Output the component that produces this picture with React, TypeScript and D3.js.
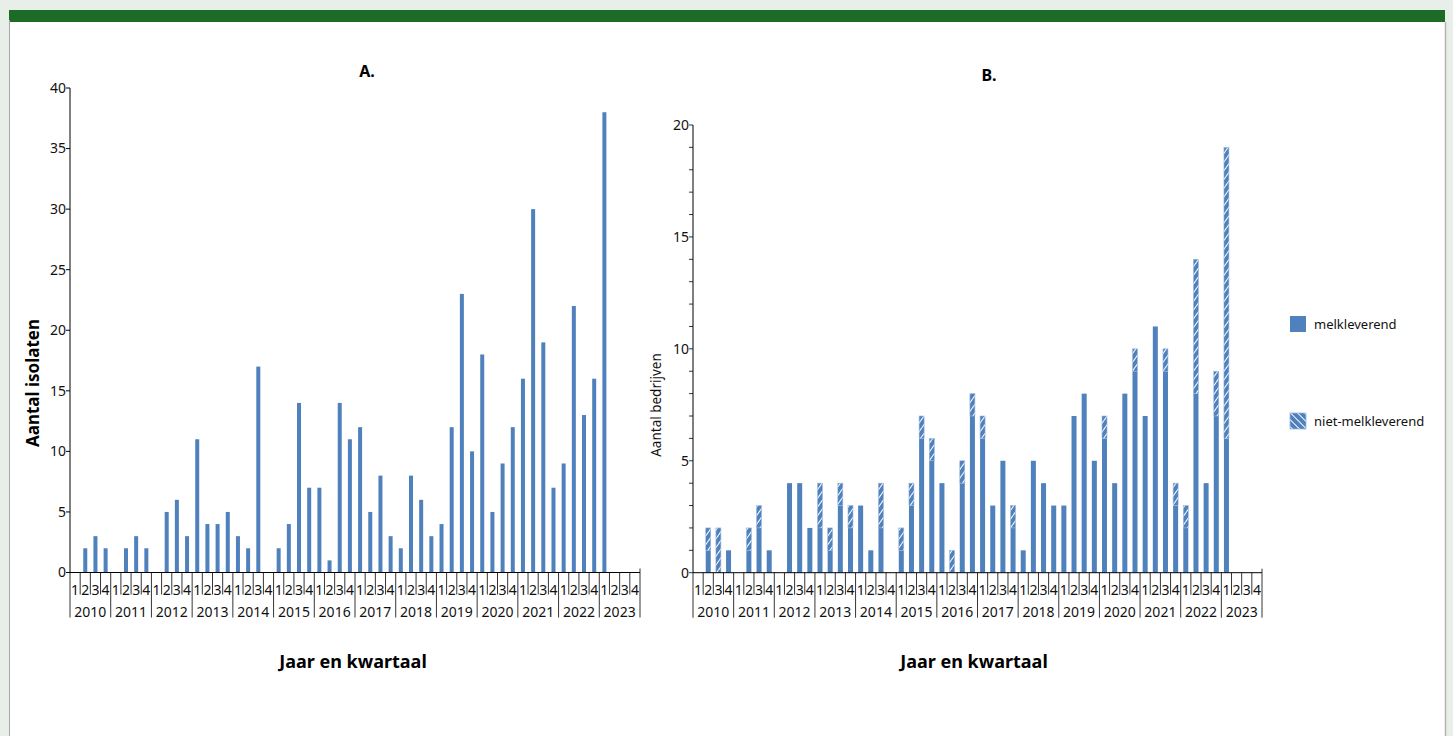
import React from "react";
import * as d3 from "d3";

const years = [2010, 2011, 2012, 2013, 2014, 2015, 2016, 2017, 2018, 2019, 2020, 2021, 2022, 2023];
const quarters = ["1", "2", "3", "4"];

// A. Aantal isolaten per kwartaal (2010 Q1 .. 2023 Q4)
const isolaten = [
  0, 2, 3, 2,
  0, 2, 3, 2,
  0, 5, 6, 3,
  11, 4, 4, 5,
  3, 2, 17, 0,
  2, 4, 14, 7,
  7, 1, 14, 11,
  12, 5, 8, 3,
  2, 8, 6, 3,
  4, 12, 23, 10,
  18, 5, 9, 12,
  16, 30, 19, 7,
  9, 22, 13, 16,
  38, 0, 0, 0,
];

// B. Aantal bedrijven: melkleverend / niet-melkleverend
const melkleverend = [
  0, 1, 0, 1,
  0, 1, 2, 1,
  0, 4, 4, 2,
  2, 1, 3, 2,
  3, 1, 2, 0,
  1, 3, 6, 5,
  4, 0, 4, 7,
  6, 3, 5, 2,
  1, 5, 4, 3,
  3, 7, 8, 5,
  6, 4, 8, 9,
  7, 11, 9, 3,
  2, 8, 4, 7,
  6, 0, 0, 0,
];
const nietMelkleverend = [
  0, 1, 2, 0,
  0, 1, 1, 0,
  0, 0, 0, 0,
  2, 1, 1, 1,
  0, 0, 2, 0,
  1, 1, 1, 1,
  0, 1, 1, 1,
  1, 0, 0, 1,
  0, 0, 0, 0,
  0, 0, 0, 0,
  1, 0, 0, 1,
  0, 0, 1, 1,
  1, 6, 0, 2,
  13, 0, 0, 0,
];

const yTicksA = [0, 5, 10, 15, 20, 25, 30, 35, 40];
const yTicksB = [0, 5, 10, 15, 20];

const keys = years.flatMap((y) => quarters.map((q) => `${y}-${q}`));
const blue = "#4f81bd";
const font = "'Noto Sans', sans-serif";

function CategoryAxis({ x, y0 }) {
  const bw = x.bandwidth();
  return (
    <g fontFamily={font} fontSize={14} fill="#111">
      <line x1={x.range()[0]} x2={x.range()[1]} y1={y0} y2={y0} stroke="#000" />
      {keys.map((k) => {
        const q = k.split("-")[1];
        const left = x(k);
        return (
          <g key={k}>
            <line
              x1={left}
              x2={left}
              y1={y0}
              y2={y0 + (q === "1" ? 45 : 22)}
              stroke="#000"
              strokeWidth={0.8}
            />
            <text x={left + bw / 2} y={y0 + 22} textAnchor="middle">
              {q}
            </text>
          </g>
        );
      })}
      <line
        x1={x.range()[1]}
        x2={x.range()[1]}
        y1={y0 - 4}
        y2={y0 + 45}
        stroke="#000"
        strokeWidth={0.8}
      />
      {years.map((yr) => (
        <text
          key={yr}
          x={x(`${yr}-1`) + (bw * 4) / 2}
          y={y0 + 44}
          textAnchor="middle"
        >
          {yr}
        </text>
      ))}
    </g>
  );
}

function ChartA() {
  const x = d3.scaleBand().domain(keys).range([70, 640]);
  const y = d3.scaleLinear().domain([0, 40]).range([572.5, 88]);
  const bw = 4;
  return (
    <g>
      <text x={367} y={77} textAnchor="middle" fontFamily={font} fontWeight="bold" fontSize={16}>
        A.
      </text>
      {isolaten.map((v, i) =>
        v > 0 ? (
          <rect
            key={i}
            x={x(keys[i]) + x.bandwidth() / 2 - bw / 2}
            y={y(v)}
            width={bw}
            height={y(0) - y(v)}
            fill={blue}
          />
        ) : null
      )}
      <line x1={70} x2={70} y1={y(40)} y2={y(0)} stroke="#000" />
      {yTicksA.map((t) => (
        <g key={t} transform={`translate(70,${y(t)})`}>
          <line x1={-4} x2={0} stroke="#000" />
          <text x={-4} dy="0.35em" textAnchor="end" fontFamily={font} fontSize={14} fill="#111">
            {t}
          </text>
        </g>
      ))}
      <CategoryAxis x={x} y0={y(0)} />
      <text
        transform={`translate(39,383) rotate(-90)`}
        textAnchor="middle"
        fontFamily={font}
        fontWeight="bold"
        fontSize={17}
      >
        Aantal isolaten
      </text>
      <text x={353} y={668} textAnchor="middle" fontFamily={font} fontWeight="bold" fontSize={18}>
        Jaar en kwartaal
      </text>
    </g>
  );
}

function ChartB() {
  const x = d3.scaleBand().domain(keys).range([693, 1262]);
  const y = d3.scaleLinear().domain([0, 20]).range([572.7, 125]);
  const bw = 5;
  const table = keys.map((k, i) => ({ key: k, melk: melkleverend[i], niet: nietMelkleverend[i] }));
  const series = d3.stack().keys(["melk", "niet"])(table);
  return (
    <g>
      <text x={989} y={81} textAnchor="middle" fontFamily={font} fontWeight="bold" fontSize={16}>
        B.
      </text>
      {series.map((s) =>
        s.map((d, i) =>
          d[1] - d[0] > 0 ? (
            <rect
              key={s.key + i}
              x={x(keys[i]) + x.bandwidth() / 2 - bw / 2}
              y={y(d[1])}
              width={bw}
              height={y(d[0]) - y(d[1])}
              fill={s.key === "melk" ? blue : "url(#hatchBar)"}
              stroke={s.key === "melk" ? "none" : "#9bb8dc"}
              strokeWidth={0.6}
            />
          ) : null
        )
      )}
      <line x1={693} x2={693} y1={y(20)} y2={y(0)} stroke="#000" />
      {d3.range(0, 21).map((t) => (
        <line key={t} x1={689} x2={693} y1={y(t)} y2={y(t)} stroke="#000" strokeWidth={0.8} />
      ))}
      {yTicksB.map((t) => (
        <text
          key={t}
          x={689}
          y={y(t)}
          dy="0.35em"
          textAnchor="end"
          fontFamily={font}
          fontSize={14}
          fill="#111"
        >
          {t}
        </text>
      ))}
      <CategoryAxis x={x} y0={y(0)} />
      <text
        transform={`translate(661,405) rotate(-90)`}
        textAnchor="middle"
        fontFamily={font}
        fontSize={13.5}
        fill="#111"
      >
        Aantal bedrijven
      </text>
      <text x={974} y={668} textAnchor="middle" fontFamily={font} fontWeight="bold" fontSize={18}>
        Jaar en kwartaal
      </text>
      {/* legend */}
      <rect x={1290} y={316} width={16} height={16} fill={blue} />
      <text x={1314} y={329} fontFamily={font} fontSize={13} fill="#111">
        melkleverend
      </text>
      <rect x={1290} y={413} width={16} height={16} fill="url(#hatchLegend)" stroke="#9bb8dc" strokeWidth={0.8} />
      <text x={1314} y={426} fontFamily={font} fontSize={13} fill="#111">
        niet-melkleverend
      </text>
    </g>
  );
}

export default function App() {
  return (
    <div style={{ position: "absolute", left: 0, top: 0 }}>
      <svg width={1453} height={736} style={{ display: "block" }}>
        <defs>
          <pattern id="hatchBar" patternUnits="userSpaceOnUse" width={5} height={5} patternTransform="rotate(35)">
            <rect width={5} height={5} fill={blue} />
            <line x1={0} y1={0} x2={0} y2={5} stroke="#fff" strokeWidth={2} />
          </pattern>
          <pattern id="hatchLegend" patternUnits="userSpaceOnUse" width={5} height={5} patternTransform="rotate(-45)">
            <rect width={5} height={5} fill={blue} />
            <line x1={0} y1={0} x2={0} y2={5} stroke="#fff" strokeWidth={2} />
          </pattern>
        </defs>
        <rect width={1453} height={736} fill="#e8efe9" />
        <rect x={9} y={10} width={1436} height={12} fill="#1c6b27" />
        <rect x={9} y={22} width={1436} height={714} fill="#fff" />
        <line x1={9.5} x2={9.5} y1={20} y2={736} stroke="#a9a9a9" />
        <line x1={1445.5} x2={1445.5} y1={22} y2={736} stroke="#b5b5b5" strokeWidth={1.5} />
        <ChartA />
        <ChartB />
      </svg>
    </div>
  );
}
